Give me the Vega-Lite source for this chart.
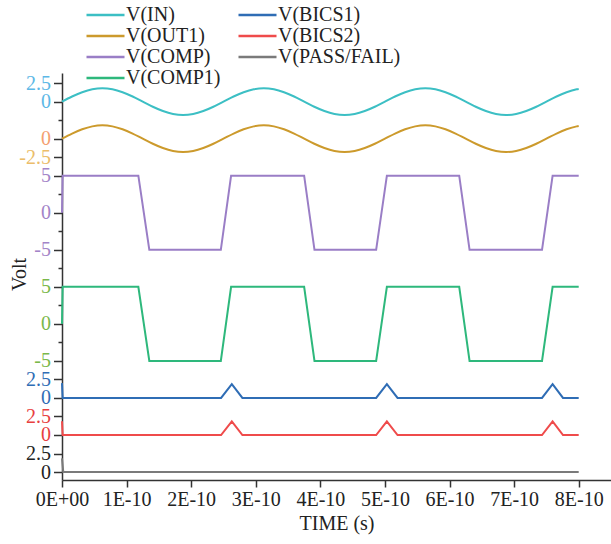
{
  "$schema": "https://vega.github.io/schema/vega-lite/v6.json",
  "width": 549,
  "height": 407,
  "autosize": {"type": "none"},
  "padding": {"left": 62, "top": 73, "right": 0, "bottom": 64},
  "background": "white",
  "config": {
    "view": {"stroke": null},
    "font": "Liberation Serif",
    "axis": {"labelFont": "Liberation Serif", "labelFontSize": 20, "titleFont": "Liberation Serif", "titleFontSize": 20, "titleFontWeight": "normal", "domainColor": "#333", "tickColor": "#333", "domainWidth": 1.5, "tickWidth": 1.5, "grid": false, "labelFlush": false, "labelOverlap": false, "labelColor": "#222", "titleColor": "#222"},
    "legend": {"labelFont": "Liberation Serif"}
  },
  "datasets": {
    "sine": [
      {"t": 0, "vin": 0, "vout": 0},
      {"t": 1.5625e-11, "vin": 0.69, "vout": 0.69},
      {"t": 3.125e-11, "vin": 1.27, "vout": 1.27},
      {"t": 4.6875e-11, "vin": 1.66, "vout": 1.66},
      {"t": 6.25e-11, "vin": 1.8, "vout": 1.8},
      {"t": 7.8125e-11, "vin": 1.66, "vout": 1.66},
      {"t": 9.375e-11, "vin": 1.27, "vout": 1.27},
      {"t": 1.09375e-10, "vin": 0.69, "vout": 0.69},
      {"t": 1.25e-10, "vin": 0, "vout": 0},
      {"t": 1.40625e-10, "vin": -0.69, "vout": -0.69},
      {"t": 1.5625e-10, "vin": -1.27, "vout": -1.27},
      {"t": 1.71875e-10, "vin": -1.66, "vout": -1.66},
      {"t": 1.875e-10, "vin": -1.8, "vout": -1.8},
      {"t": 2.03125e-10, "vin": -1.66, "vout": -1.66},
      {"t": 2.1875e-10, "vin": -1.27, "vout": -1.27},
      {"t": 2.34375e-10, "vin": -0.69, "vout": -0.69},
      {"t": 2.5e-10, "vin": 0, "vout": 0},
      {"t": 2.65625e-10, "vin": 0.69, "vout": 0.69},
      {"t": 2.8125e-10, "vin": 1.27, "vout": 1.27},
      {"t": 2.96875e-10, "vin": 1.66, "vout": 1.66},
      {"t": 3.125e-10, "vin": 1.8, "vout": 1.8},
      {"t": 3.28125e-10, "vin": 1.66, "vout": 1.66},
      {"t": 3.4375e-10, "vin": 1.27, "vout": 1.27},
      {"t": 3.59375e-10, "vin": 0.69, "vout": 0.69},
      {"t": 3.75e-10, "vin": 0, "vout": 0},
      {"t": 3.90625e-10, "vin": -0.69, "vout": -0.69},
      {"t": 4.0625e-10, "vin": -1.27, "vout": -1.27},
      {"t": 4.21875e-10, "vin": -1.66, "vout": -1.66},
      {"t": 4.375e-10, "vin": -1.8, "vout": -1.8},
      {"t": 4.53125e-10, "vin": -1.66, "vout": -1.66},
      {"t": 4.6875e-10, "vin": -1.27, "vout": -1.27},
      {"t": 4.84375e-10, "vin": -0.69, "vout": -0.69},
      {"t": 5.0e-10, "vin": 0, "vout": 0},
      {"t": 5.15625e-10, "vin": 0.69, "vout": 0.69},
      {"t": 5.3125e-10, "vin": 1.27, "vout": 1.27},
      {"t": 5.46875e-10, "vin": 1.66, "vout": 1.66},
      {"t": 5.625e-10, "vin": 1.8, "vout": 1.8},
      {"t": 5.78125e-10, "vin": 1.66, "vout": 1.66},
      {"t": 5.9375e-10, "vin": 1.27, "vout": 1.27},
      {"t": 6.09375e-10, "vin": 0.69, "vout": 0.69},
      {"t": 6.25e-10, "vin": 0, "vout": 0},
      {"t": 6.40625e-10, "vin": -0.69, "vout": -0.69},
      {"t": 6.5625e-10, "vin": -1.27, "vout": -1.27},
      {"t": 6.71875e-10, "vin": -1.66, "vout": -1.66},
      {"t": 6.875e-10, "vin": -1.8, "vout": -1.8},
      {"t": 7.03125e-10, "vin": -1.66, "vout": -1.66},
      {"t": 7.1875e-10, "vin": -1.27, "vout": -1.27},
      {"t": 7.34375e-10, "vin": -0.69, "vout": -0.69},
      {"t": 7.5e-10, "vin": 0, "vout": 0},
      {"t": 7.65625e-10, "vin": 0.69, "vout": 0.69},
      {"t": 7.8125e-10, "vin": 1.27, "vout": 1.27},
      {"t": 7.96875e-10, "vin": 1.66, "vout": 1.66},
      {"t": 8.0e-10, "vin": 1.71, "vout": 1.71}
    ],
    "square": [
      {"t": 0, "comp": 0, "comp1": 0},
      {"t": 1e-12, "comp": 5, "comp1": 5},
      {"t": 1.182e-10, "comp": 5, "comp1": 5},
      {"t": 1.352e-10, "comp": -5, "comp1": -5},
      {"t": 2.459e-10, "comp": -5, "comp1": -5},
      {"t": 2.618e-10, "comp": 5, "comp1": 5},
      {"t": 3.749e-10, "comp": 5, "comp1": 5},
      {"t": 3.909e-10, "comp": -5, "comp1": -5},
      {"t": 4.864e-10, "comp": -5, "comp1": -5},
      {"t": 5.03e-10, "comp": 5, "comp1": 5},
      {"t": 6.15e-10, "comp": 5, "comp1": 5},
      {"t": 6.31e-10, "comp": -5, "comp1": -5},
      {"t": 7.432e-10, "comp": -5, "comp1": -5},
      {"t": 7.596e-10, "comp": 5, "comp1": 5},
      {"t": 8.0e-10, "comp": 5, "comp1": 5}
    ],
    "spike": [
      {"t": 0, "b1": 2.0, "b2": 1.85},
      {"t": 1e-12, "b1": 0, "b2": 0},
      {"t": 2.463e-10, "b1": 0, "b2": 0},
      {"t": 2.629e-10, "b1": 1.85, "b2": 1.85},
      {"t": 2.793e-10, "b1": 0, "b2": 0},
      {"t": 4.864e-10, "b1": 0, "b2": 0},
      {"t": 5.03e-10, "b1": 1.85, "b2": 1.85},
      {"t": 5.195e-10, "b1": 0, "b2": 0},
      {"t": 7.432e-10, "b1": 0, "b2": 0},
      {"t": 7.596e-10, "b1": 1.85, "b2": 1.85},
      {"t": 7.757e-10, "b1": 0, "b2": 0},
      {"t": 8.0e-10, "b1": 0, "b2": 0}
    ],
    "pf": [
      {"t": 0, "pf": 1.85},
      {"t": 2e-12, "pf": 0},
      {"t": 8.0e-10, "pf": 0}
    ]
  },
  "layer": [
    {
      "data": {"name": "sine"},
      "mark": {"type": "line", "interpolate": "monotone", "strokeWidth": 2, "clip": false},
      "encoding": {
        "x": {"field": "t", "type": "quantitative", "scale": {"domain": [0, 8.5e-10], "nice": false, "zero": false},
          "axis": {"title": "TIME (s)", "values": [0, 5e-11, 1e-10, 1.5e-10, 2e-10, 2.5e-10, 3e-10, 3.5e-10, 4e-10, 4.5e-10, 5e-10, 5.5e-10, 6e-10, 6.5e-10, 7e-10, 7.5e-10, 8e-10, 8.5e-10],
            "labelExpr": "round(datum.value*2e10) % 2 == 1 ? '' : (datum.value == 0 ? '0E+00' : round(datum.value*1e10) + 'E-10')",
            "tickSize": {"condition": {"test": "round(datum.value*2e10) % 2 == 1", "value": 4}, "value": 7},
            "labelPadding": 2, "titlePadding": 4}},
        "y": {"field": "vin", "type": "quantitative", "scale": {"domain": [-51.075, 3.8625], "nice": false, "zero": false},
          "axis": {"orient": "left", "values": [2.5, 0], "labelExpr": "'' + datum.value", "labelColor": "#5cb8e6", "domain": false, "tickSize": 8.5, "labelPadding": 3, "title": null}},
        "color": {"datum": "V(IN)",
          "scale": {"domain": ["V(IN)", "V(OUT1)", "V(COMP)", "V(COMP1)", "V(BICS1)", "V(BICS2)", "V(PASS/FAIL)"],
                    "range": ["#3cbfc4", "#cc9a2c", "#9a7ec6", "#2eb87c", "#2f6db5", "#ef4b4b", "#7a7a7a"]},
          "legend": {"orient": "none", "legendX": 32.5, "legendY": -69, "columns": 2, "title": null, "symbolType": "M-2,0H2", "symbolSize": 361, "symbolStrokeWidth": 2.5, "symbolFillColor": "transparent", "labelFontSize": 20, "labelFont": "Liberation Serif", "labelColor": "#222", "rowPadding": -1.5, "columnPadding": 13, "labelOffset": 9.5, "padding": 0}}
      }
    },
    {
      "data": {"name": "sine"},
      "mark": {"type": "line", "interpolate": "monotone", "strokeWidth": 2, "clip": false},
      "encoding": {
        "x": {"field": "t", "type": "quantitative"},
        "y": {"field": "vout", "type": "quantitative", "scale": {"domain": [-46.075, 8.8625], "nice": false, "zero": false},
          "axis": {"orient": "left", "values": [2.5, 0, -2.5], "labelExpr": "datum.value == 2.5 ? '' : '' + datum.value",
            "labelColor": {"condition": {"test": "datum.value == 0", "value": "#f4a070"}, "value": "#ebbd6a"},
            "tickSize": {"condition": {"test": "datum.value == 2.5", "value": 4}, "value": 8.5},
            "domain": false, "labelPadding": 3, "title": null}},
        "color": {"datum": "V(OUT1)"}
      }
    },
    {
      "data": {"name": "square"},
      "mark": {"type": "line", "strokeWidth": 2, "clip": false},
      "encoding": {
        "x": {"field": "t", "type": "quantitative"},
        "y": {"field": "comp", "type": "quantitative", "scale": {"domain": [-36.075, 18.8625], "nice": false, "zero": false},
          "axis": {"orient": "left", "values": [5, 2.5, 0, -2.5, -5, -7.5], "labelExpr": "(datum.value == 5 || datum.value == 0 || datum.value == -5) ? '' + datum.value : ''",
            "labelColor": "#a384c8",
            "tickSize": {"condition": {"test": "datum.value == 2.5 || datum.value == -2.5 || datum.value == -7.5", "value": 4}, "value": 8.5},
            "domain": false, "labelPadding": 3, "title": null}},
        "color": {"datum": "V(COMP)"}
      }
    },
    {
      "data": {"name": "square"},
      "mark": {"type": "line", "strokeWidth": 2, "clip": false},
      "encoding": {
        "x": {"field": "t", "type": "quantitative"},
        "y": {"field": "comp1", "type": "quantitative", "scale": {"domain": [-21.075, 33.8625], "nice": false, "zero": false},
          "axis": {"orient": "left", "values": [5, 2.5, 0, -2.5, -5], "labelExpr": "(datum.value == 5 || datum.value == 0 || datum.value == -5) ? '' + datum.value : ''",
            "labelColor": "#7ab84a",
            "tickSize": {"condition": {"test": "datum.value == 2.5 || datum.value == -2.5", "value": 4}, "value": 8.5},
            "domain": false, "labelPadding": 3, "title": null}},
        "color": {"datum": "V(COMP1)"}
      }
    },
    {
      "data": {"name": "spike"},
      "mark": {"type": "line", "strokeWidth": 2, "clip": false},
      "encoding": {
        "x": {"field": "t", "type": "quantitative"},
        "y": {"field": "b1", "type": "quantitative", "scale": {"domain": [-11.075, 43.8625], "nice": false, "zero": false},
          "axis": {"orient": "left", "values": [2.5, 0], "labelExpr": "'' + datum.value", "labelColor": "#2f6db5", "domain": false, "tickSize": 8.5, "labelPadding": 3, "title": null}},
        "color": {"datum": "V(BICS1)"}
      }
    },
    {
      "data": {"name": "spike"},
      "mark": {"type": "line", "strokeWidth": 2, "clip": false},
      "encoding": {
        "x": {"field": "t", "type": "quantitative"},
        "y": {"field": "b2", "type": "quantitative", "scale": {"domain": [-6.075, 48.8625], "nice": false, "zero": false},
          "axis": {"orient": "left", "values": [2.5, 0], "labelExpr": "'' + datum.value", "labelColor": "#e8403f", "domain": false, "tickSize": 8.5, "labelPadding": 3, "title": null}},
        "color": {"datum": "V(BICS2)"}
      }
    },
    {
      "data": {"name": "pf"},
      "mark": {"type": "line", "strokeWidth": 2, "clip": false},
      "encoding": {
        "x": {"field": "t", "type": "quantitative"},
        "y": {"field": "pf", "type": "quantitative", "scale": {"domain": [-1.075, 53.8625], "nice": false, "zero": false},
          "axis": {"orient": "left", "values": [2.5, 0], "labelExpr": "'' + datum.value", "labelColor": "#222", "domain": true, "tickSize": 8.5, "labelPadding": 3,
            "title": "Volt", "titleX": -37, "titleY": 201, "titleAngle": 270, "titleBaseline": "alphabetic", "titleAlign": "center"}},
        "color": {"datum": "V(PASS/FAIL)"}
      }
    }
  ],
  "resolve": {"scale": {"y": "independent"}}
}
